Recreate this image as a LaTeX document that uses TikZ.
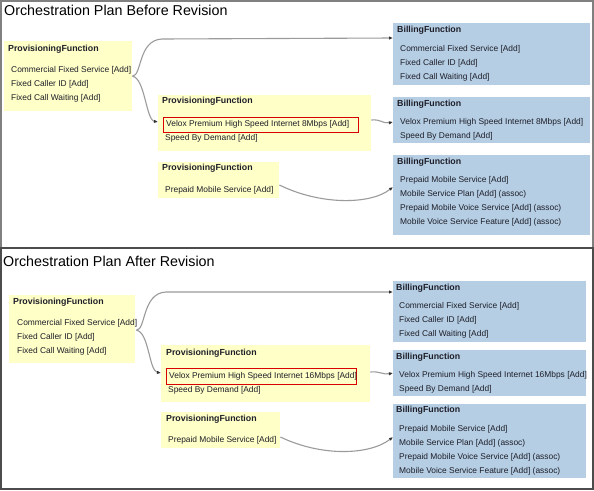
\documentclass[tikz,border=0pt]{standalone}
\usepackage{fontspec}
\setmainfont{Liberation Sans}
\usetikzlibrary{arrows.meta,calc}
\definecolor{ylw}{RGB}{255,255,200}
\definecolor{blu}{RGB}{181,206,228}
\definecolor{lnk}{RGB}{155,155,155}
\definecolor{txt}{RGB}{30,30,40}
\tikzset{
 ybox/.style={fill=ylw, draw=none, anchor=north west, inner sep=0pt},
 bbox/.style={fill=blu, draw=none, anchor=north west, inner sep=0pt},
 hdr/.style={anchor=west, inner sep=0pt, text=txt, font=\fontsize{8.8}{10}\selectfont\bfseries},
 itm/.style={anchor=west, inner sep=0pt, text=txt, font=\fontsize{8.4}{10}\selectfont},
 ttl/.style={anchor=base west, inner sep=0pt, font=\fontsize{14.3}{16}\selectfont},
 conn/.style={draw=lnk, line width=1.1pt, -{Latex[length=4pt,width=3.5pt,color=black!80]}},
 hl/.style={draw=red!85!black, line width=0.8pt, anchor=north west, inner sep=0pt, fill=none},
}
\begin{document}
\begin{tikzpicture}[x=1pt,y=-1pt]
\useasboundingbox (0,0) rectangle (594,490);
\fill[white] (0,0) rectangle (594,490);
% frames
\draw[gray, line width=1.5pt] (1,247) -- (1,1) -- (593,1) -- (593,247);
\draw[black!70, line width=1.5pt] (1,248) rectangle (593,489);

% ===== TOP PANEL =====
\node[ttl] (t1) at (4,15) {Orchestration Plan Before Revision};

\node[ybox, minimum width=128pt, minimum height=70pt] (p1) at (4,41) {};
\node[hdr] (p1h) at (8,49) {ProvisioningFunction};
\node[itm] (p1a) at (11,70) {Commercial Fixed Service [Add]};
\node[itm] (p1b) at (11,84) {Fixed Caller ID [Add]};
\node[itm] (p1c) at (11,98) {Fixed Call Waiting [Add]};

\node[ybox, minimum width=213pt, minimum height=56pt] (p2) at (158,95) {};
\node[hdr] (p2h) at (162,101) {ProvisioningFunction};
\node[hl, minimum width=195pt, minimum height=15pt] (r1) at (163,117) {};
\node[itm] (p2a) at (166,124.5) {Velox Premium High Speed Internet 8Mbps [Add]};
\node[itm] (p2b) at (165,138) {Speed By Demand [Add]};

\node[ybox, minimum width=121pt, minimum height=36pt] (p3) at (158,162) {};
\node[hdr] (p3h) at (162,168) {ProvisioningFunction};
\node[itm] (p3a) at (165,190) {Prepaid Mobile Service [Add]};

\node[bbox, minimum width=197pt, minimum height=62pt] (b1) at (393,23) {};
\node[hdr] (b1h) at (397,30) {BillingFunction};
\node[itm] (b1a) at (400,49) {Commercial Fixed Service [Add]};
\node[itm] (b1b) at (400,63) {Fixed Caller ID [Add]};
\node[itm] (b1c) at (400,77) {Fixed Call Waiting [Add]};

\node[bbox, minimum width=197pt, minimum height=46pt] (b2) at (393,97) {};
\node[hdr] (b2h) at (397,104) {BillingFunction};
\node[itm] (b2a) at (400,122) {Velox Premium High Speed Internet 8Mbps [Add]};
\node[itm] (b2b) at (400,136) {Speed By Demand [Add]};

\node[bbox, minimum width=197pt, minimum height=80pt] (b3) at (393,155) {};
\node[hdr] (b3h) at (397,162) {BillingFunction};
\node[itm] (b3a) at (400,180) {Prepaid Mobile Service [Add]};
\node[itm] (b3b) at (400,194) {Mobile Service Plan [Add] (assoc)};
\node[itm] (b3c) at (400,208) {Prepaid Mobile Voice Service [Add] (assoc)};
\node[itm] (b3d) at (400,222) {Mobile Voice Service Feature [Add] (assoc)};

\draw[conn] (p1.east) .. controls (142,76) and (138,40) .. (162,39) -- ($(b1.north west)+(0,15)$);
\draw[conn] (p1.east) .. controls (145,78) and (146,120) .. ($(p2.north west)+(0,27)$);
\draw[conn] ($(p2.north east)+(0,25)$) .. controls (381,119) and (383,124) .. ($(b2.north west)+(0,25)$);
\draw[conn] ($(p3.north east)+(0,23)$) .. controls (320,205) and (370,205) .. ($(b3.north west)+(0,32)$);

% ===== BOTTOM PANEL =====
\node[ttl] (t2) at (3,266) {Orchestration Plan After Revision};

\node[ybox, minimum width=126pt, minimum height=68pt] (q1) at (9,295) {};
\node[hdr] (q1h) at (13,302) {ProvisioningFunction};
\node[itm] (q1a) at (17,323) {Commercial Fixed Service [Add]};
\node[itm] (q1b) at (17,337) {Fixed Caller ID [Add]};
\node[itm] (q1c) at (17,351) {Fixed Call Waiting [Add]};

\node[ybox, minimum width=209pt, minimum height=57pt] (q2) at (161,345) {};
\node[hdr] (q2h) at (166,353) {ProvisioningFunction};
\node[hl, minimum width=190pt, minimum height=16pt] (r2) at (166,368) {};
\node[itm] (q2a) at (169,376) {Velox Premium High Speed Internet 16Mbps [Add]};
\node[itm] (q2b) at (168,390) {Speed By Demand [Add]};

\node[ybox, minimum width=119pt, minimum height=36pt] (q3) at (161,412) {};
\node[hdr] (q3h) at (166,419) {ProvisioningFunction};
\node[itm] (q3a) at (168,440) {Prepaid Mobile Service [Add]};

\node[bbox, minimum width=193pt, minimum height=61pt] (c1) at (393,281) {};
\node[hdr] (c1h) at (396,288) {BillingFunction};
\node[itm] (c1a) at (399,306) {Commercial Fixed Service [Add]};
\node[itm] (c1b) at (399,320) {Fixed Caller ID [Add]};
\node[itm] (c1c) at (399,334) {Fixed Call Waiting [Add]};

\node[bbox, minimum width=193pt, minimum height=46pt] (c2) at (393,350) {};
\node[hdr] (c2h) at (396,357) {BillingFunction};
\node[itm] (c2a) at (399,375) {Velox Premium High Speed Internet 16Mbps [Add]};
\node[itm] (c2b) at (399,389) {Speed By Demand [Add]};

\node[bbox, minimum width=193pt, minimum height=74pt] (c3) at (393,404) {};
\node[hdr] (c3h) at (396,410) {BillingFunction};
\node[itm] (c3a) at (399,429) {Prepaid Mobile Service [Add]};
\node[itm] (c3b) at (399,443) {Mobile Service Plan [Add] (assoc)};
\node[itm] (c3c) at (399,457) {Prepaid Mobile Voice Service [Add] (assoc)};
\node[itm] (c3d) at (399,471) {Mobile Voice Service Feature [Add] (assoc)};

\draw[conn] ($(q1.east)+(1,1)$) .. controls (146,330) and (142,293) .. (166,292) -- ($(c1.north west)+(0,11)$);
\draw[conn] ($(q1.east)+(1,1)$) .. controls (149,332) and (149,371) .. ($(q2.north west)+(0,28)$);
\draw[conn] ($(q2.north east)+(0,27)$) .. controls (380,371) and (383,375) .. ($(c2.north west)+(0,23)$);
\draw[conn] ($(q3.north east)+(0,25)$) .. controls (322,457) and (370,455) .. ($(c3.north west)+(0,33)$);
\end{tikzpicture}
\end{document}
